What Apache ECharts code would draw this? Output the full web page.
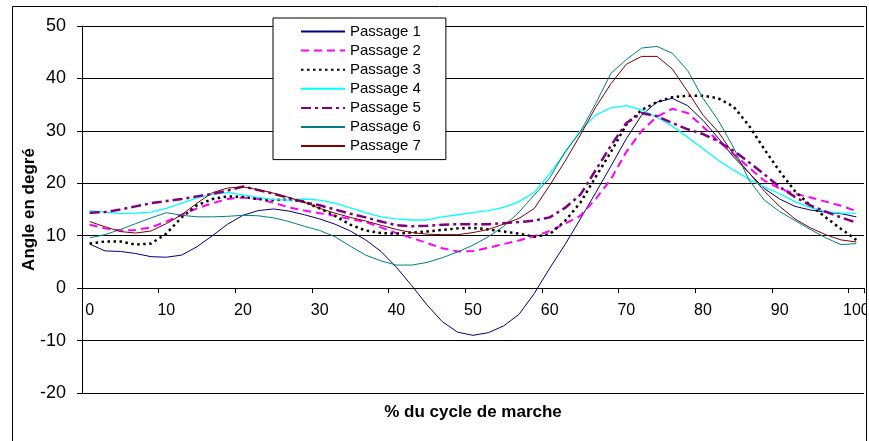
<!DOCTYPE html>
<html>
<head>
<meta charset="utf-8">
<script src="https://cdn.jsdelivr.net/npm/echarts@6/dist/echarts.min.js"></script>
<style>
html,body{margin:0;padding:0;background:#fff;}
#chart{width:869px;height:441px;}
</style>
</head>
<body>
<div id="chart"></div>
<script>
const categories = ['0','2','4','6','8','10','12','14','16','18','20','22','24','26','28','30','32','34','36','38','40','42','44','46','48','50','52','54','56','58','60','62','64','66','68','70','72','74','76','78','80','82','84','86','88','90','92','94','96','98','100'];

const passage1 = [8.4,7.1,7.0,6.6,6.0,5.9,6.3,7.9,10.0,12.2,13.9,14.8,15.1,14.7,14.0,13.2,12.2,10.9,9.2,7.0,4.0,0.5,-3.2,-6.4,-8.4,-9.0,-8.5,-7.2,-5.0,-1.0,3.8,8.3,13.2,18.2,23.3,28.5,33.0,35.5,36.2,34.8,32.0,28.6,25.0,22.0,19.0,17.0,15.6,14.9,14.5,14.2,13.6];
const passage2 = [12.1,11.4,11.0,11.1,11.6,12.7,14.0,15.2,16.2,17.0,17.3,17.0,16.3,15.4,14.8,14.3,13.8,13.2,12.6,11.6,10.5,9.6,8.6,7.6,7.0,7.1,7.7,8.4,9.1,9.9,10.9,12.3,13.8,17.0,20.8,26.0,30.0,32.7,34.2,33.4,30.8,28.0,25.6,23.0,20.5,19.0,18.0,17.3,16.5,15.7,14.7];
const passage3 = [8.5,8.9,8.9,8.3,8.5,10.4,13.5,15.8,17.0,17.5,17.4,17.0,16.8,16.9,16.5,15.2,13.8,12.1,11.0,10.5,10.4,10.6,10.8,11.1,11.4,11.5,11.2,10.8,10.4,9.8,10.3,12.8,16.3,21.2,26.0,31.2,34.0,35.5,36.4,36.7,36.7,36.2,34.6,31.0,26.5,22.3,18.5,15.8,13.5,11.3,9.2];
const passage4 = [14.8,14.5,14.2,14.3,14.5,15.2,16.2,17.2,17.9,18.2,17.8,17.3,16.9,16.8,17.0,16.8,16.2,15.3,14.4,13.6,13.2,13.0,13.0,13.6,14.0,14.4,14.8,15.4,16.5,18.3,21.8,25.8,30.0,33.0,34.4,34.8,34.0,32.6,30.9,28.8,26.6,24.4,22.5,20.8,19.3,18.0,16.5,15.4,14.6,14.3,14.3];
const passage5 = [14.4,14.5,15.0,15.6,16.2,16.6,17.0,17.5,18.0,18.6,19.4,18.7,18.0,17.2,16.4,15.8,15.0,14.2,13.5,12.7,12.0,11.8,11.9,12.1,12.2,12.2,12.2,12.4,12.6,12.9,13.5,15.3,17.8,22.5,27.2,31.5,33.4,32.8,31.5,30.3,29.4,28.0,26.2,24.0,21.7,19.3,17.4,15.8,14.6,13.5,12.5];
const passage6 = [9.6,10.2,11.2,12.3,13.4,14.4,13.9,13.6,13.6,13.7,13.9,13.8,13.4,12.7,11.8,11.0,9.8,8.0,6.3,5.2,4.4,4.4,4.9,5.8,6.9,8.2,9.8,11.8,14.5,17.8,21.0,26.0,29.8,35.2,41.0,43.6,45.8,46.1,44.8,41.5,36.2,32.0,26.8,20.6,16.8,14.6,12.9,11.2,9.6,8.3,8.5];
const passage7 = [12.7,11.7,10.8,10.5,10.9,12.3,14.0,16.2,18.2,19.1,19.3,18.8,18.1,17.3,16.4,15.2,14.3,13.5,12.8,12.0,11.2,10.6,10.3,10.2,10.2,10.6,11.2,12.2,13.3,15.2,19.6,24.2,29.2,34.5,39.0,42.7,44.2,44.2,41.8,37.5,33.0,29.8,25.5,22.0,18.5,15.6,13.2,11.5,10.2,9.2,8.8];

const seriesNames = ['Passage 1','Passage 2','Passage 3','Passage 4','Passage 5','Passage 6','Passage 7'];
const yTicks = {min: -20, max: 50, step: 10};

const dataSets = [passage1, passage2, passage3, passage4, passage5, passage6, passage7];
const styles = [
  {color:'#000080', width:1, type:'solid'},
  {color:'#FF00FF', width:2, type:[8,5]},
  {color:'#000000', width:2.5, type:[2.5,3.5]},
  {color:'#00FFFF', width:1.3, type:'solid'},
  {color:'#800080', width:2.5, type:[10,4,3,4]},
  {color:'#008080', width:1, type:'solid'},
  {color:'#800000', width:1, type:'solid'}
];

const FONT = "Arial, 'Liberation Sans', sans-serif";
const chart = echarts.init(document.getElementById('chart'), null, {renderer:'canvas'});
const xNameTop = 116; // distance from the x axis line (at y = 0) to the axis title
chart.setOption({
  animation: false,
  backgroundColor: '#ffffff',
  textStyle: {fontFamily: FONT, color: '#000'},
  grid: {left: 82, right: 5, top: 26, bottom: 48, containLabel: false, outerBoundsMode: 'none'},
  legend: {
    orient: 'vertical',
    left: 273, top: 18,
    padding: [6, 25, 6, 27],
    itemWidth: 44, itemHeight: 14, itemGap: 4.1,
    backgroundColor: '#fff',
    borderColor: '#000', borderWidth: 1,
    itemStyle: {opacity: 0, borderWidth: 0},
    textStyle: {fontSize: 15, color: '#000', fontFamily: FONT, lineHeight: 14},
    data: seriesNames
  },
  xAxis: {
    type: 'category',
    data: categories,
    boundaryGap: true,
    name: '% du cycle de marche',
    nameLocation: 'middle',
    nameGap: xNameTop,
    nameMoveOverlap: false,
    nameTextStyle: {fontSize: 17, fontWeight: 'bold', color: '#000', fontFamily: FONT},
    axisLine: {onZero: true, lineStyle: {color: '#000', width: 1}},
    axisTick: {show: true, interval: 4, length: 5, lineStyle: {color: '#000'}},
    axisLabel: {interval: 4, fontSize: 16, color: '#000', margin: 14, fontFamily: FONT},
    splitLine: {show: false}
  },
  yAxis: {
    type: 'value',
    min: yTicks.min, max: yTicks.max, interval: yTicks.step,
    name: 'Angle en degré',
    nameLocation: 'middle',
    nameGap: 44,
    nameMoveOverlap: false,
    nameTextStyle: {fontSize: 17, fontWeight: 'bold', color: '#000', fontFamily: FONT},
    axisLine: {show: true, lineStyle: {color: '#000', width: 1}},
    axisTick: {show: true, length: 5, lineStyle: {color: '#000'}},
    axisLabel: {fontSize: 18, color: '#000', margin: 16, fontFamily: FONT},
    splitLine: {show: true, lineStyle: {color: '#000', width: 1}}
  },
  series: dataSets.map((d, k) => ({
    name: seriesNames[k],
    type: 'line',
    data: d,
    symbol: 'none',
    showSymbol: false,
    smooth: false,
    z: 2 + k,
    lineStyle: {color: styles[k].color, width: styles[k].width, type: styles[k].type},
    itemStyle: {color: styles[k].color}
  })),
  graphic: [
    {type: 'rect', z: 100, silent: true, shape: {x: 866.5, y: 0, width: 10, height: 441}, style: {fill: '#fff'}},
    {type: 'rect', z: 101, silent: true, shape: {x: 12.5, y: 6.5, width: 854, height: 445}, style: {fill: 'none', stroke: '#000', lineWidth: 1}}
  ]
});
// Place the category axis on the y = 0 line (axis crossing at zero), using the value axis scale
const yZero = chart.convertToPixel({yAxisIndex: 0}, 0);
const yBottom = chart.convertToPixel({yAxisIndex: 0}, yTicks.min);
if (Math.abs(yBottom - yZero) > 1) {
  chart.setOption({xAxis: {offset: -(yBottom - yZero)}});
}
</script>
</body>
</html>
